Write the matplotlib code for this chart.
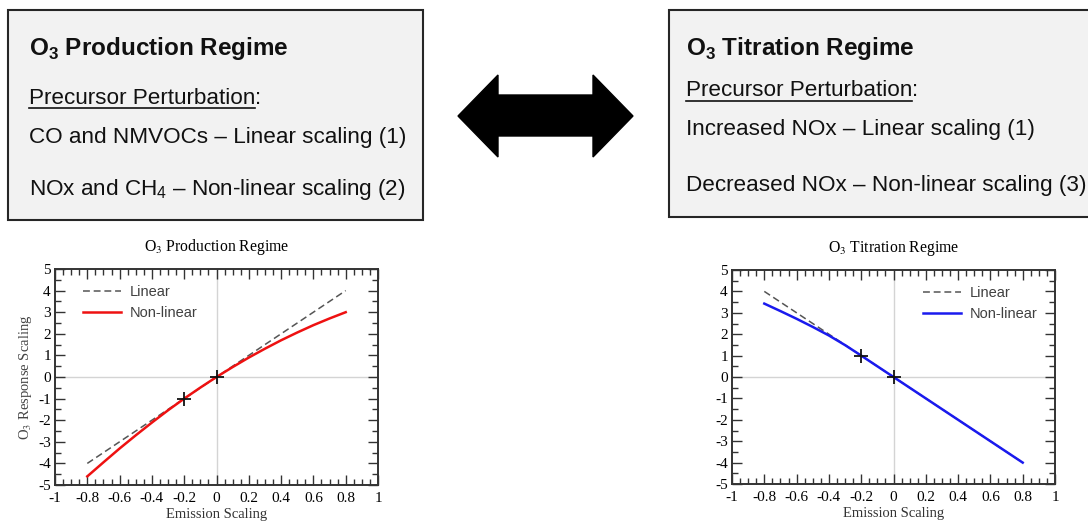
import matplotlib
matplotlib.use('Agg')
import matplotlib.pyplot as plt
from matplotlib.patches import Rectangle, Polygon
from matplotlib.lines import Line2D
from matplotlib.ticker import MultipleLocator

plt.rcParams['mathtext.fontset'] = 'custom'
plt.rcParams['mathtext.rm'] = 'Liberation Sans'
plt.rcParams['mathtext.bf'] = 'Liberation Sans:bold'

# data
emission = [-0.8, -0.7, -0.6, -0.5, -0.4, -0.3, -0.2, -0.1, 0.0,
            0.1, 0.2, 0.3, 0.4, 0.5, 0.6, 0.7, 0.8]
prod_linear = [-4.0, -3.5, -3.0, -2.5, -2.0, -1.5, -1.0, -0.5, 0.0,
               0.5, 1.0, 1.5, 2.0, 2.5, 3.0, 3.5, 4.0]
prod_nonlinear = [-4.60, -3.95, -3.31, -2.70, -2.11, -1.54, -1.0, -0.49, 0.0,
                  0.46, 0.90, 1.31, 1.70, 2.06, 2.40, 2.71, 3.0]
titr_linear = [4.0, 3.5, 3.0, 2.5, 2.0, 1.5, 1.0, 0.5, 0.0,
               -0.5, -1.0, -1.5, -2.0, -2.5, -3.0, -3.5, -4.0]
titr_nonlinear = [3.43, 3.08, 2.72, 2.34, 1.94, 1.49, 1.0, 0.5, 0.0,
                  -0.5, -1.0, -1.5, -2.0, -2.5, -3.0, -3.5, -4.0]
prod_marks_x = [-0.2, 0.0]
prod_marks_y = [-1.0, 0.0]
titr_marks_x = [-0.2, 0.0]
titr_marks_y = [1.0, 0.0]

x_ticks = [-1, -0.8, -0.6, -0.4, -0.2, 0, 0.2, 0.4, 0.6, 0.8, 1]
x_labels = ['-1', '-0.8', '-0.6', '-0.4', '-0.2', '0', '0.2', '0.4', '0.6', '0.8', '1']
y_ticks = [-5, -4, -3, -2, -1, 0, 1, 2, 3, 4, 5]
y_labels = ['-5', '-4', '-3', '-2', '-1', '0', '1', '2', '3', '4', '5']

W, H = 1088, 522
fig = plt.figure(figsize=(W / 100, H / 100), dpi=100)


def fx(x):
    return x / W


def fy(y):
    return 1 - y / H


# boxes
for x0, x1, y0, y1 in [(8, 423, 10, 220), (669, 1100, 10, 217)]:
    fig.patches.append(Rectangle((fx(x0), fy(y1)), fx(x1 - x0), (y1 - y0) / H,
                                 transform=fig.transFigure, facecolor='#f2f2f2',
                                 edgecolor='#262626', linewidth=1.5, zorder=0))

sans = 'Liberation Sans'
fs = 16.2


def box_text(x, y, s, size=fs, **kw):
    return fig.text(fx(x), fy(y), s, family=sans, fontsize=size, va='center',
                    ha='left', math_fontfamily='custom', color='#111111', **kw)


box_text(29, 48, r'O$_\mathbf{3}$ Production Regime', size=17.5, fontweight='bold')
box_text(29, 137, 'CO and NMVOCs \u2013 Linear scaling (1)')
box_text(29, 190, 'NOx and CH$_4$ \u2013 Non-linear scaling (2)')
box_text(686, 48, r'O$_\mathbf{3}$ Titration Regime', size=17.5, fontweight='bold')
box_text(686, 129, 'Increased NOx \u2013 Linear scaling (1)')
box_text(686, 185, 'Decreased NOx \u2013 Non-linear scaling (3)')

renderer = fig.canvas.get_renderer()
for x, y in [(29, 98), (686, 91)]:
    t = box_text(x, y, 'Precursor Perturbation')
    bb = t.get_window_extent(renderer)
    fig.text(bb.x1 / W, fy(y), ':', family=sans, fontsize=fs, va='center',
             ha='left', color='#111111')
    fig.lines.append(Line2D([bb.x0 / W, bb.x1 / W], [(bb.y0 + 1) / H] * 2,
                            transform=fig.transFigure, color='#111111', lw=1.2))

# double arrow
arrow = [(458, 116), (498, 75), (498, 95), (593, 95), (593, 75), (633, 116),
         (593, 157), (593, 136), (498, 136), (498, 157)]
fig.patches.append(Polygon([(fx(a), fy(b)) for a, b in arrow], closed=True,
                           transform=fig.transFigure, facecolor='black',
                           edgecolor='black'))

serif = 'Liberation Serif'


def panel(rect, title, lin, nonlin, color, mx, my, legend_loc, anchor, ylabel):
    ax = fig.add_axes(rect)
    ax.axhline(0, color='#d4d4d4', lw=1, zorder=1)
    ax.axvline(0, color='#d4d4d4', lw=1, zorder=1)
    ax.plot(emission, lin, color='#555555', lw=1.1, ls=(0, (4.5, 2.5)),
            label='Linear', zorder=2)
    ax.plot(emission, nonlin, color=color, lw=1.8, label='Non-linear', zorder=3)
    ax.plot(mx, my, ls='none', marker='+', ms=10, mew=1.3, color='#111111', zorder=4)
    ax.set_xlim(-1, 1)
    ax.set_ylim(-5, 5)
    ax.set_xticks(x_ticks)
    ax.set_xticklabels(x_labels, family=serif, fontsize=11)
    ax.set_yticks(y_ticks)
    ax.set_yticklabels(y_labels, family=serif, fontsize=11)
    ax.xaxis.set_minor_locator(MultipleLocator(0.05))
    ax.yaxis.set_minor_locator(MultipleLocator(0.5))
    ax.tick_params(which='both', direction='in', top=True, right=True,
                   color='#333333', width=1, pad=3)
    ax.tick_params(axis='x', which='major', pad=5)
    ax.tick_params(which='major', length=7)
    ax.tick_params(which='minor', length=4)
    for s in ax.spines.values():
        s.set_color('#333333')
        s.set_linewidth(1.4)
    ax.set_title(title, family=serif, fontsize=11.3, pad=13, math_fontfamily='stix')
    ax.set_xlabel('Emission Scaling', family=serif, fontsize=10.5, labelpad=2,
                  color='#333333')
    if ylabel:
        ax.set_ylabel(ylabel, family=serif, fontsize=10.5, labelpad=3,
                      color='#444444', math_fontfamily='stix')
    ax.legend(loc=legend_loc, bbox_to_anchor=anchor, frameon=False,
              prop={'family': sans, 'size': 10.5}, labelcolor='#404040',
              handlelength=2.6, handletextpad=0.6, labelspacing=0.45)
    return ax


panel([fx(55), fy(485), fx(323), 216 / H], r'O$_3$ Production Regime',
      prod_linear, prod_nonlinear, '#ee1111', prod_marks_x, prod_marks_y,
      'upper left', (0.045, 0.985), r'O$_3$ Response Scaling')
panel([fx(732), fy(484), fx(323), 214 / H], r'O$_3$ Titration Regime',
      titr_linear, titr_nonlinear, '#1a1aee', titr_marks_x, titr_marks_y,
      'upper right', (0.985, 0.985), None)

fig.savefig('out.png', dpi=100)
